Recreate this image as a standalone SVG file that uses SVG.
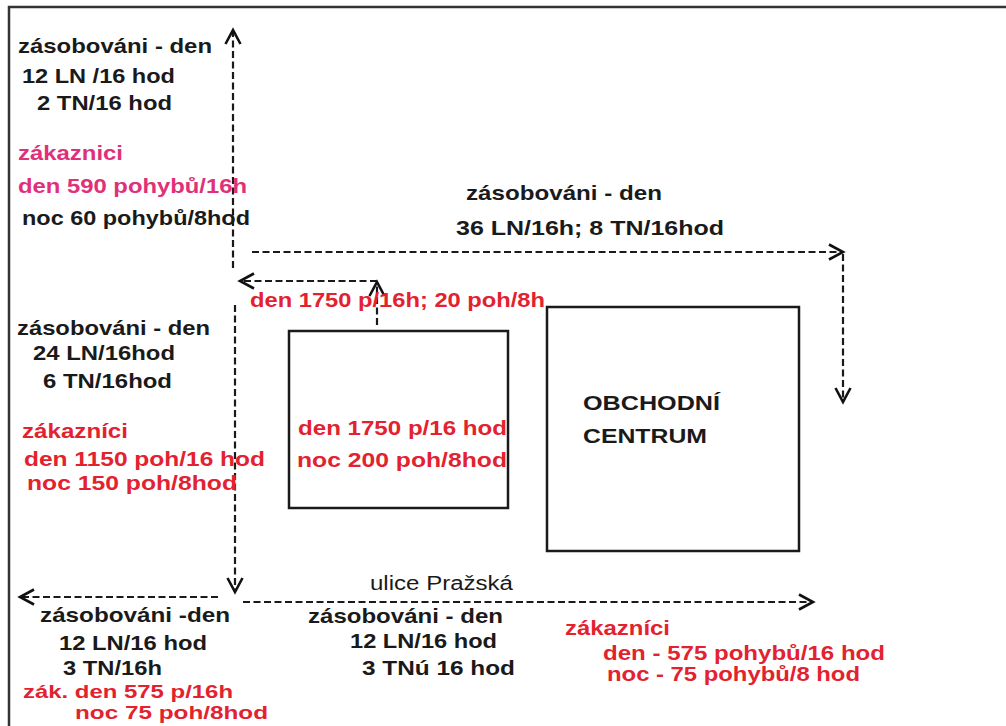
<svg xmlns="http://www.w3.org/2000/svg" width="1006" height="726" viewBox="0 0 1006 726">
<defs>
<marker id="ah" markerUnits="userSpaceOnUse" markerWidth="20" markerHeight="20" viewBox="-16 -10 20 20" refX="0" refY="0" orient="auto">
<path d="M-14,-7.5 L0,0 L-14,7.5" fill="none" stroke="#111" stroke-width="2.6"/>
</marker>
</defs>
<style>
.t{font-family:"Liberation Sans",Arial,sans-serif;font-weight:bold;font-size:21px;fill:#1a1a1a}
.r{fill:#e3222f}
.p{fill:#e0307a}
.s{font-size:18.5px}
.n{font-weight:normal;font-size:20px}
.box{fill:#fff;stroke:#1a1a1a;stroke-width:2.5}
.d{fill:none;stroke:#1a1a1a;stroke-width:2.2;stroke-dasharray:7 3.5}
.a{marker-end:url(#ah)}
</style>
<rect width="1006" height="726" fill="#fff"/>
<g id="frame"><path d="M9,726 V7 H1006" fill="none" stroke="#333" stroke-width="2.5"/></g>
<g id="connectors">
<path class="d a" d="M233,268 V30"/>
<path class="d a" d="M235,305 V592"/>
<path class="d a" d="M252,252 H843"/>
<path class="d a" d="M843,254 V402"/>
<path class="d a" d="M377,325 V282"/>
<path class="d a" d="M377,281 H240"/>
<path class="d a" d="M218,597 H20"/>
<path class="d a" d="M243,602 H813"/>
</g>
<g id="node-box1"><rect class="box" x="289" y="331" width="219" height="177"/>
<text class="t r" x="298" y="435" textLength="209" lengthAdjust="spacingAndGlyphs">den 1750 p/16 hod</text>
<text class="t r" x="297" y="467" textLength="210" lengthAdjust="spacingAndGlyphs">noc  200 poh/8hod</text></g>
<g id="node-centrum"><rect class="box" x="547" y="307" width="252" height="244"/>
<text class="t" x="583" y="410" textLength="137" lengthAdjust="spacingAndGlyphs">OBCHODNÍ</text>
<text class="t" x="583" y="443" textLength="124" lengthAdjust="spacingAndGlyphs">CENTRUM</text></g>
<g id="label-topleft">
<text class="t" x="18" y="53" textLength="194" lengthAdjust="spacingAndGlyphs">zásobováni - den</text>
<text class="t" x="22" y="83" textLength="153" lengthAdjust="spacingAndGlyphs">12 LN /16 hod</text>
<text class="t" x="37" y="110" textLength="135" lengthAdjust="spacingAndGlyphs">2 TN/16 hod</text>
<text class="t p" x="18" y="160" textLength="105" lengthAdjust="spacingAndGlyphs">zákaznici</text>
<text class="t p" x="18" y="193" textLength="229" lengthAdjust="spacingAndGlyphs">den 590 pohybů/16h</text>
<text class="t" x="22" y="225" textLength="228" lengthAdjust="spacingAndGlyphs">noc 60  pohybů/8hod</text>
</g>
<g id="label-top">
<text class="t" x="466" y="200" textLength="196" lengthAdjust="spacingAndGlyphs">zásobováni - den</text>
<text class="t" x="456" y="235" textLength="268" lengthAdjust="spacingAndGlyphs">36 LN/16h;  8 TN/16hod</text>
<text class="t r" x="250" y="307" textLength="295" lengthAdjust="spacingAndGlyphs">den 1750 p/16h; 20 poh/8h</text>
</g>
<g id="label-left">
<text class="t" x="17" y="335" textLength="193" lengthAdjust="spacingAndGlyphs">zásobováni - den</text>
<text class="t" x="33" y="360" textLength="142" lengthAdjust="spacingAndGlyphs">24 LN/16hod</text>
<text class="t" x="43" y="388" textLength="129" lengthAdjust="spacingAndGlyphs">6 TN/16hod</text>
<text class="t r" x="22" y="438" textLength="106" lengthAdjust="spacingAndGlyphs">zákazníci</text>
<text class="t r" x="24" y="466" textLength="241" lengthAdjust="spacingAndGlyphs">den  1150 poh/16 hod</text>
<text class="t r" x="27" y="490" textLength="210" lengthAdjust="spacingAndGlyphs">noc  150 poh/8hod</text>
</g>
<g id="label-street">
<text class="t n" x="370" y="590" textLength="143" lengthAdjust="spacingAndGlyphs">ulice Pražská</text>
</g>
<g id="label-bottomleft">
<text class="t" x="40" y="622" textLength="190" lengthAdjust="spacingAndGlyphs">zásobováni  -den</text>
<text class="t" x="59" y="650" textLength="148" lengthAdjust="spacingAndGlyphs">12 LN/16 hod</text>
<text class="t" x="63" y="675" textLength="99" lengthAdjust="spacingAndGlyphs">3 TN/16h</text>
<text class="t r s" x="23" y="698" textLength="210" lengthAdjust="spacingAndGlyphs">zák. den 575 p/16h</text>
<text class="t r s" x="75" y="719" textLength="193" lengthAdjust="spacingAndGlyphs">noc  75 poh/8hod</text>
</g>
<g id="label-bottommid">
<text class="t" x="308" y="623" textLength="195" lengthAdjust="spacingAndGlyphs">zásobováni - den</text>
<text class="t" x="350" y="648" textLength="147" lengthAdjust="spacingAndGlyphs">12 LN/16 hod</text>
<text class="t" x="362" y="675" textLength="153" lengthAdjust="spacingAndGlyphs">3 TNú 16 hod</text>
</g>
<g id="label-bottomright">
<text class="t r" x="565" y="635" textLength="105" lengthAdjust="spacingAndGlyphs">zákazníci</text>
<text class="t r" x="603" y="660" textLength="282" lengthAdjust="spacingAndGlyphs">den - 575 pohybů/16 hod</text>
<text class="t r" x="607" y="681" textLength="253" lengthAdjust="spacingAndGlyphs">noc - 75 pohybů/8 hod</text>
</g>
</svg>
